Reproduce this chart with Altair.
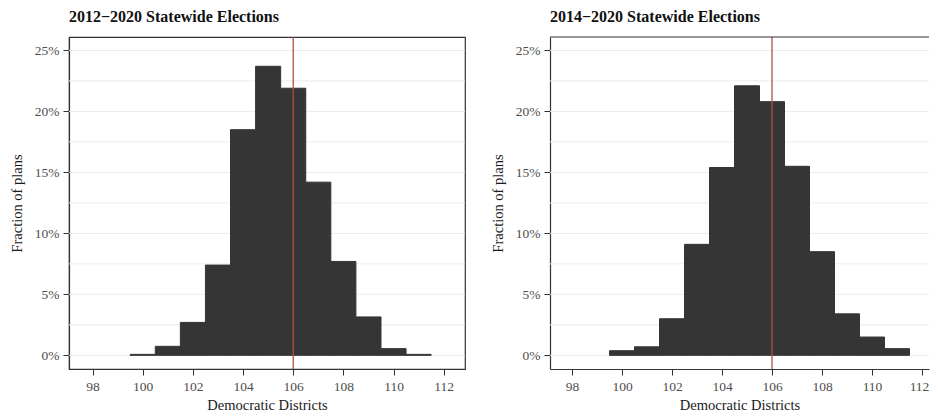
import altair as alt
import pandas as pd

# ---- data ----
centers = [100, 101, 102, 103, 104, 105, 106, 107, 108, 109, 110, 111]
frac_2012 = [0.08, 0.74, 2.7, 7.4, 18.5, 23.7, 21.9, 14.2, 7.7, 3.15, 0.55, 0.08]
frac_2014 = [0.38, 0.70, 3.0, 9.1, 15.4, 22.1, 20.8, 15.5, 8.5, 3.4, 1.5, 0.55]
panel_titles = ["2012\u22122020 Statewide Elections", "2014\u22122020 Statewide Elections"]
x_ticks = [98, 100, 102, 104, 106, 108, 110, 112]
y_ticks = [0, 5, 10, 15, 20, 25]
grid_vals = [0, 2.5, 5, 7.5, 10, 12.5, 15, 17.5, 20, 22.5, 25]
enacted = [106]

FONT = "Liberation Serif"
Y_DOMAIN = [-1.12, 26.1]
H = 332
FRAME = "#333333"


def panel(vals, title, x_domain, width, full_frame):
    df = pd.DataFrame({
        "lo": [c - 0.5 for c in centers],
        "hi": [c + 0.5 for c in centers],
        "frac": vals,
    })
    xscale = alt.Scale(domain=x_domain, nice=False, zero=False)
    yscale = alt.Scale(domain=Y_DOMAIN, nice=False, zero=False)
    yaxis = alt.Axis(values=y_ticks, title="Fraction of plans",
                     labelExpr="datum.value + '%'",
                     labelPadding=4, titleX=-48, titleBaseline="alphabetic")
    xaxis_kw = dict(values=x_ticks, title="Democratic Districts",
                    format="d", labelPadding=4, titlePadding=6)
    if not full_frame:
        xaxis_kw["labelOffset"] = {"condition": {"test": "datum.value == 112",
                                                 "value": -3},
                                   "value": 0}
    xaxis = alt.Axis(**xaxis_kw)

    grid = alt.Chart(pd.DataFrame({"g": grid_vals})).mark_rule(
        color="#ebebeb", strokeWidth=1
    ).encode(y=alt.Y("g:Q", scale=yscale, axis=yaxis))

    bars = alt.Chart(df).mark_bar(
        color="#353535", stroke="#353535", strokeWidth=1
    ).encode(
        x=alt.X("lo:Q", scale=xscale, axis=xaxis),
        x2="hi:Q",
        y=alt.Y("frac:Q", scale=yscale, axis=yaxis),
        y2=alt.datum(0),
    )

    rule = alt.Chart(pd.DataFrame({"v": enacted})).mark_rule(
        color="#b84a3c", strokeWidth=1.3
    ).encode(x=alt.X("v:Q", scale=xscale, axis=xaxis))

    layers = [grid, bars, rule]
    if not full_frame:
        # top border of the panel (its right border lies outside the picture)
        top = alt.Chart(pd.DataFrame({"v": enacted})).mark_rule(
            color=FRAME, strokeWidth=1.2
        ).encode(y=alt.value(0))
        layers.append(top)

    ch = alt.layer(*layers).properties(
        width=width, height=H,
        title=alt.Title(title, anchor="start", frame="group", offset=11),
    )
    if not full_frame:
        ch = ch.properties(view=alt.ViewBackground(strokeOpacity=0))
    return ch


chart = alt.hconcat(
    panel(frac_2012, panel_titles[0], [97.06, 112.85], 396, True),
    panel(frac_2014, panel_titles[1], [97.12, 112.28], 379, False),
    spacing=23,
).properties(
    padding={"left": 0, "top": 0, "right": 0, "bottom": 0}
).configure(
    font=FONT
).configure_view(
    stroke=FRAME, strokeWidth=1.2
).configure_axis(
    domainColor=FRAME, domainWidth=1.2, tickColor=FRAME, tickSize=6,
    labelColor="#4d4d4d", titleColor="#1a1a1a",
    labelFont=FONT, titleFont=FONT,
    labelFontSize=13.5, titleFontSize=14.5, titleFontWeight="normal",
    grid=False,
).configure_title(
    font=FONT, fontSize=16, fontWeight="bold", color="#111111",
)

chart.save("out.html", embed_options={"renderer": "svg", "actions": False})
